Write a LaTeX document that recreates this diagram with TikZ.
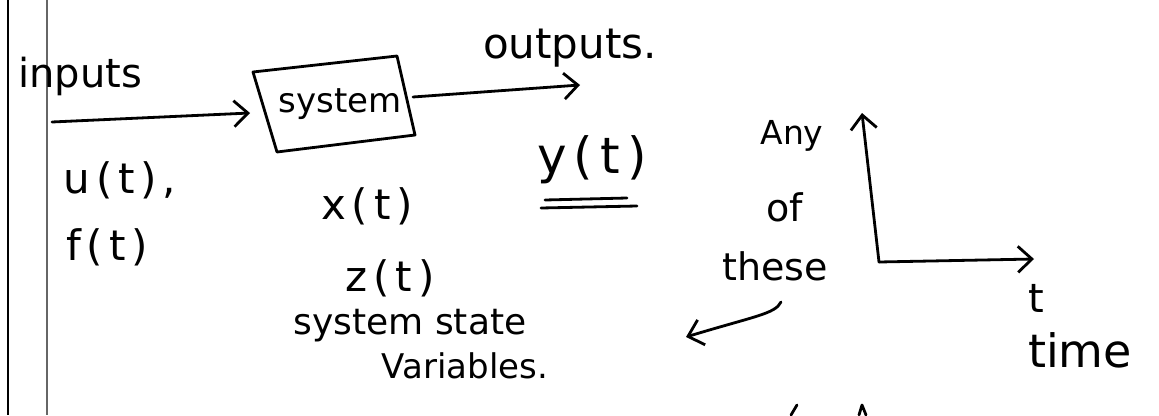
\documentclass[tikz,border=0pt]{standalone}
\usepackage{fontspec}
\setmainfont{DejaVu Sans}
\usetikzlibrary{arrows.meta}
\tikzset{
  ink/.style={line width=2.8pt, line cap=round, line join=round, black},
  barb/.style={-{Straight Barb[length=14pt,width=26pt,line width=2.8pt]}},
  hw/.style={inner sep=0pt, font=\fontsize{#1}{#1}\selectfont},
}
\newcommand{\gp}{\hspace{0.14em}}
\begin{document}
\begin{tikzpicture}[x=1pt,y=-1pt]
\useasboundingbox (0,0) rectangle (1159,415);
\fill[white] (0,0) rectangle (1159,415);
% margin lines
\draw[line width=2.4pt, black] (8,0) -- (8,415);
\draw[line width=2pt, black!60] (47,0) -- (47,415);

% input
\node[hw=40] (inputs) at (80,76) {inputs};
\coordinate (inStart) at (52,122);
\coordinate (sysW) at (250,113);
\draw[ink, barb] (inStart) -- (sysW);

% system box
\coordinate (b1) at (253,72);
\coordinate (b2) at (397,56);
\coordinate (b3) at (415,135);
\coordinate (b4) at (277,152);
\draw[ink] (b1) -- (b2) -- (b3) -- (b4) -- cycle;
\node[hw=34] (sys) at (340,104) {system};

% output
\coordinate (sysE) at (413,97);
\coordinate (outEnd) at (580,85);
\draw[ink, barb] (sysE) -- (outEnd);
\node[hw=42] (outputs) at (570,48) {outputs.};

% signals
\node[hw=42] (ut) at (120,180) {u\gp(\gp t\gp)\gp,};
\node[hw=42] (ft) at (107,247) {f\gp(\gp t\gp)};
\node[hw=42] (xt) at (367,206) {x\gp(\gp t\gp)};
\node[hw=42] (zt) at (390,278) {z\gp(\gp t\gp)};
\node[hw=36] (sss) at (410,326) {system state};
\node[hw=34] (var) at (465,366) {Variables.};
\node[hw=50] (yt) at (592,160) {y\gp(\gp t\gp)};
\draw[ink] (545,200) -- (627,198);
\draw[ink] (541,208) -- (637,206);

% any of these
\node[hw=33] (any) at (792,136) {Any};
\node[hw=38] (of) at (785,207) {of};
\node[hw=38] (these) at (775,266) {these};
\coordinate (thStart) at (781,302);
\coordinate (thEnd) at (686,337);
\draw[ink, barb] (thStart) .. controls (775,314) and (755,316) .. (thEnd);

% axes
\coordinate (orig) at (879,262);
\coordinate (yEnd) at (862,113);
\coordinate (xEnd) at (1034,259);
\draw[ink, barb] (orig) -- (yEnd);
\draw[ink, barb] (orig) -- (xEnd);
\node[hw=40] (tlab) at (1036,298) {t};
\node[hw=46] (time) at (1080,350) {time};

% cut-off strokes at bottom
\draw[ink] (791,415) -- (797,405);
\draw[ink] (859,415) -- (862,405) -- (866,415);
\end{tikzpicture}
\end{document}
